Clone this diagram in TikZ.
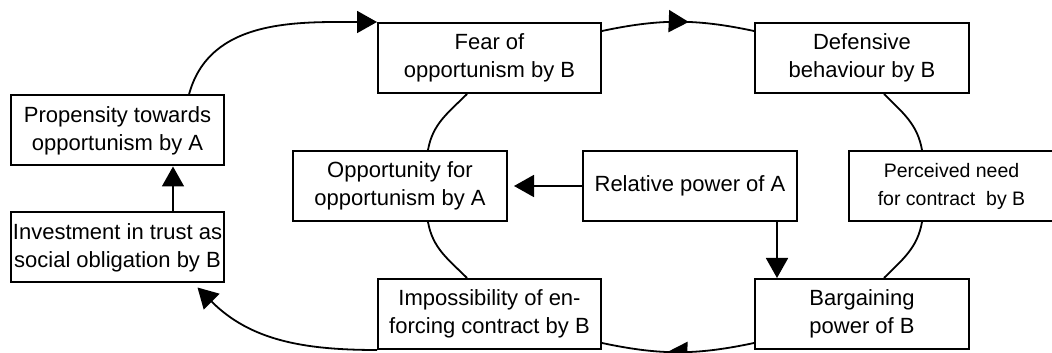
\documentclass[tikz,border=0pt]{standalone}
\usepackage{fontspec}
\setmainfont{Liberation Sans}
\usetikzlibrary{arrows.meta,positioning,decorations.markings}
\tikzset{
  factor/.style={draw,rectangle,line width=2pt,minimum width=214pt,minimum height=70pt,align=center,inner sep=2pt,font=\fontsize{22}{28}\selectfont},
  link/.style={line width=1.8pt},
  cause/.style={-{Triangle[length=20pt,width=22pt]},line width=1.8pt},
  midarrow/.style={line width=1.8pt,postaction={decorate},decoration={markings,mark=at position #1 with {\arrow{Triangle[length=20pt,width=22pt]}}}},
  midarrow/.default=0.57
}

\begin{document}
\begin{tikzpicture}[x=1pt,y=1pt,node distance=45pt and 152pt]
\useasboundingbox (0,0) rectangle (1052,353);

\node[factor,minimum width=223pt] (fear) at (489.5,295) {Fear of\\opportunism by B};
\node[factor,right=of fear] (def) {Defensive\\behaviour by B};
\node[factor,minimum width=223pt,below=184pt of fear] (imp) {Impossibility of en-\\forcing contract by B};
\node[factor,right=of imp] (barg) {Bargaining\\power of B};
\node[factor] (opp) at (400,167) {Opportunity for\\opportunism by A};
\node[factor,right=74pt of opp] (rel) {Relative power of A};
\node[factor,minimum width=205pt,right=50pt of rel,font=\fontsize{19.5}{28}\selectfont] (perc) {Perceived need\\for contract\ \ by B};
\node[factor,minimum width=213pt] (prop) at (117.5,222.5) {Propensity towards\\opportunism by A};
\node[factor,minimum width=213pt,below=of prop] (inv) {Investment in trust as\\social obligation by B};

\draw[cause] ([xshift=55.5pt]inv.north) -- ([xshift=55.5pt]prop.south);
\draw[cause] ([xshift=71.5pt]prop.north) to[out=75,in=180] (fear.north west);
\draw[midarrow] ([yshift=-9pt]fear.north east) to[bend left=12] ([yshift=-9pt]def.north west);
\draw[link] ([xshift=22pt]def.south) to[out=-45,in=100] ([xshift=-29.5pt]perc.north);
\draw[link] ([xshift=-29.5pt]perc.south) to[out=-100,in=45] ([xshift=22pt]barg.north);
\draw[midarrow] ([yshift=7pt]barg.south west) to[bend left=12] ([yshift=7pt]imp.south east);
\draw[cause] (imp.south west) to[out=180,in=-45] ([xshift=80pt,yshift=-4pt]inv.south);
\draw[link] ([xshift=-22.5pt]fear.south) to[out=-135,in=80] ([xshift=28pt]opp.north);
\draw[link] ([xshift=28pt]opp.south) to[out=-80,in=135] ([xshift=-22.5pt]imp.north);
\draw[cause,shorten >=6pt] (rel.west) -- (opp.east);
\draw[cause] ([xshift=87pt]rel.south) -- ([xshift=87pt]rel.south |- barg.north);

\end{tikzpicture}
\end{document}
